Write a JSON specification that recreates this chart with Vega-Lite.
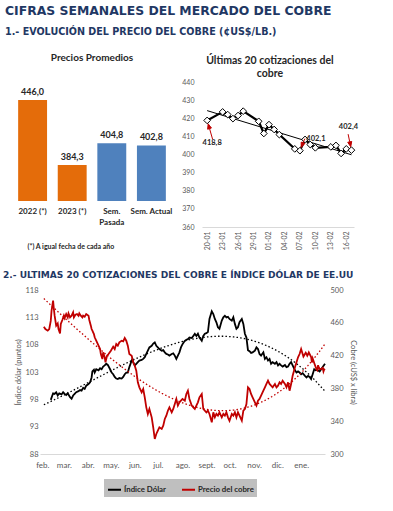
{
  "$schema": "https://vega.github.io/schema/vega-lite/v6.json",
  "background": "white",
  "padding": {"left": 3, "top": 5, "right": 2, "bottom": 2},
  "title": {
    "text": "CIFRAS SEMANALES DEL MERCADO DEL COBRE",
    "subtitle": "1.- EVOLUCIÓN DEL PRECIO DEL COBRE (¢US$/LB.)",
    "anchor": "start", "frame": "bounds", "dx": 2,
    "font": "DejaVu Sans", "fontSize": 12.4, "fontWeight": "bold", "color": "#1f3864",
    "subtitleFont": "DejaVu Sans", "subtitleFontSize": 9.6, "subtitleFontWeight": "bold", "subtitleColor": "#1f3864",
    "subtitlePadding": 10, "offset": 16
  },
  "config": {
    "view": {"stroke": null},
    "font": "Lato",
    "locale": {"number": {"decimal": ",", "thousands": ".", "grouping": [3], "currency": ["$", ""]}},
    "axis": {"labelFont": "Lato", "titleFont": "Lato", "labelColor": "#595959", "titleColor": "#595959", "grid": false, "ticks": false, "domain": false, "titleFontWeight": "normal"},
    "legend": {"layout": {"bottom": {"anchor": "middle"}}}
  },
  "datasets": {
    "promedios": [
      {"periodo": "2022 (*)", "valor": 446.0, "grupo": "anual"},
      {"periodo": "2023 (*)", "valor": 384.3, "grupo": "anual"},
      {"periodo": "Sem. Pasada", "valor": 404.8, "grupo": "semanal"},
      {"periodo": "Sem. Actual", "valor": 402.8, "grupo": "semanal"}
    ],
    "top20": [
      {"fecha": "2023-01-20", "valor": 418.8},
      {"fecha": "2023-01-23", "valor": 423.5},
      {"fecha": "2023-01-24", "valor": 422.0},
      {"fecha": "2023-01-25", "valor": 419.8},
      {"fecha": "2023-01-26", "valor": 421.5},
      {"fecha": "2023-01-27", "valor": 423.9},
      {"fecha": "2023-01-30", "valor": 418.3},
      {"fecha": "2023-01-31", "valor": 411.6},
      {"fecha": "2023-02-01", "valor": 416.5},
      {"fecha": "2023-02-02", "valor": 413.8},
      {"fecha": "2023-02-03", "valor": 411.0},
      {"fecha": "2023-02-06", "valor": 403.1},
      {"fecha": "2023-02-07", "valor": 402.1},
      {"fecha": "2023-02-08", "valor": 408.3},
      {"fecha": "2023-02-09", "valor": 405.5},
      {"fecha": "2023-02-10", "valor": 403.7},
      {"fecha": "2023-02-13", "valor": 404.2},
      {"fecha": "2023-02-14", "valor": 405.0},
      {"fecha": "2023-02-15", "valor": 400.6},
      {"fecha": "2023-02-16", "valor": 403.1},
      {"fecha": "2023-02-17", "valor": 402.4}
    ],
    "dolar": [
      {"fecha":"2022-02-26","valor":97.9},{"fecha":"2022-03-01","valor":99.1},{"fecha":"2022-03-03","valor":99.0},{"fecha":"2022-03-05","valor":99.3},
      {"fecha":"2022-03-07","valor":98.7},{"fecha":"2022-03-09","valor":99.1},{"fecha":"2022-03-12","valor":98.9},{"fecha":"2022-03-14","valor":99.3},
      {"fecha":"2022-03-16","valor":99.0},{"fecha":"2022-03-18","valor":98.8},{"fecha":"2022-03-20","valor":99.1},{"fecha":"2022-03-23","valor":98.4},
      {"fecha":"2022-03-25","valor":98.1},{"fecha":"2022-03-27","valor":98.7},{"fecha":"2022-03-29","valor":99.0},{"fecha":"2022-03-31","valor":99.3},
      {"fecha":"2022-04-03","valor":99.5},{"fecha":"2022-04-05","valor":99.7},{"fecha":"2022-04-07","valor":99.6},{"fecha":"2022-04-09","valor":100.1},
      {"fecha":"2022-04-11","valor":99.9},{"fecha":"2022-04-13","valor":100.5},{"fecha":"2022-04-16","valor":100.8},{"fecha":"2022-04-18","valor":101.1},
      {"fecha":"2022-04-20","valor":102.0},{"fecha":"2022-04-21","valor":103.1},{"fecha":"2022-04-23","valor":103.4},{"fecha":"2022-04-24","valor":102.9},
      {"fecha":"2022-04-26","valor":103.5},{"fecha":"2022-04-29","valor":103.3},{"fecha":"2022-05-01","valor":103.7},{"fecha":"2022-05-03","valor":103.5},
      {"fecha":"2022-05-05","valor":104.0},{"fecha":"2022-05-07","valor":104.2},{"fecha":"2022-05-09","valor":104.5},{"fecha":"2022-05-11","valor":104.3},
      {"fecha":"2022-05-14","valor":103.5},{"fecha":"2022-05-16","valor":102.9},{"fecha":"2022-05-18","valor":102.6},{"fecha":"2022-05-20","valor":102.1},
      {"fecha":"2022-05-22","valor":101.8},{"fecha":"2022-05-24","valor":101.7},{"fecha":"2022-05-26","valor":101.9},{"fecha":"2022-05-29","valor":101.8},
      {"fecha":"2022-05-31","valor":102.1},{"fecha":"2022-06-02","valor":102.6},{"fecha":"2022-06-04","valor":102.9},{"fecha":"2022-06-06","valor":102.9},
      {"fecha":"2022-06-08","valor":103.9},{"fecha":"2022-06-11","valor":105.1},{"fecha":"2022-06-12","valor":105.4},{"fecha":"2022-06-13","valor":104.8},
      {"fecha":"2022-06-15","valor":104.2},{"fecha":"2022-06-17","valor":104.5},{"fecha":"2022-06-19","valor":104.8},{"fecha":"2022-06-21","valor":105.1},
      {"fecha":"2022-06-24","valor":105.2},{"fecha":"2022-06-26","valor":105.4},{"fecha":"2022-06-28","valor":105.7},{"fecha":"2022-06-30","valor":106.3},
      {"fecha":"2022-07-02","valor":106.9},{"fecha":"2022-07-04","valor":107.5},{"fecha":"2022-07-07","valor":107.8},{"fecha":"2022-07-09","valor":108.2},
      {"fecha":"2022-07-11","valor":108.4},{"fecha":"2022-07-13","valor":107.8},{"fecha":"2022-07-15","valor":107.5},{"fecha":"2022-07-17","valor":107.2},
      {"fecha":"2022-07-20","valor":106.9},{"fecha":"2022-07-22","valor":107.0},{"fecha":"2022-07-24","valor":106.6},{"fecha":"2022-07-26","valor":106.3},
      {"fecha":"2022-07-28","valor":106.2},{"fecha":"2022-07-30","valor":106.0},{"fecha":"2022-08-02","valor":106.3},{"fecha":"2022-08-04","valor":106.4},
      {"fecha":"2022-08-06","valor":106.0},{"fecha":"2022-08-08","valor":105.4},{"fecha":"2022-08-10","valor":106.0},{"fecha":"2022-08-12","valor":106.6},
      {"fecha":"2022-08-14","valor":107.5},{"fecha":"2022-08-16","valor":108.1},{"fecha":"2022-08-19","valor":108.7},{"fecha":"2022-08-21","valor":108.9},
      {"fecha":"2022-08-23","valor":109.0},{"fecha":"2022-08-25","valor":109.3},{"fecha":"2022-08-28","valor":109.2},{"fecha":"2022-08-30","valor":109.6},
      {"fecha":"2022-09-01","valor":110.0},{"fecha":"2022-09-03","valor":109.6},{"fecha":"2022-09-05","valor":110.0},{"fecha":"2022-09-07","valor":109.3},
      {"fecha":"2022-09-10","valor":108.7},{"fecha":"2022-09-12","valor":109.6},{"fecha":"2022-09-14","valor":110.0},{"fecha":"2022-09-16","valor":110.1},
      {"fecha":"2022-09-18","valor":110.3},{"fecha":"2022-09-20","valor":112.7},{"fecha":"2022-09-23","valor":114.1},{"fecha":"2022-09-25","valor":113.6},
      {"fecha":"2022-09-27","valor":112.7},{"fecha":"2022-09-29","valor":112.1},{"fecha":"2022-10-01","valor":111.2},{"fecha":"2022-10-03","valor":110.9},
      {"fecha":"2022-10-06","valor":112.4},{"fecha":"2022-10-08","valor":113.0},{"fecha":"2022-10-10","valor":113.3},{"fecha":"2022-10-12","valor":113.0},
      {"fecha":"2022-10-14","valor":113.1},{"fecha":"2022-10-16","valor":112.7},{"fecha":"2022-10-19","valor":112.4},{"fecha":"2022-10-21","valor":113.0},
      {"fecha":"2022-10-23","valor":111.8},{"fecha":"2022-10-25","valor":110.9},{"fecha":"2022-10-27","valor":111.2},{"fecha":"2022-10-29","valor":112.1},
      {"fecha":"2022-11-01","valor":112.7},{"fecha":"2022-11-03","valor":111.8},{"fecha":"2022-11-05","valor":110.0},{"fecha":"2022-11-07","valor":109.3},
      {"fecha":"2022-11-09","valor":107.0},{"fecha":"2022-11-11","valor":106.8},{"fecha":"2022-11-13","valor":106.5},{"fecha":"2022-11-15","valor":106.6},
      {"fecha":"2022-11-18","valor":106.9},{"fecha":"2022-11-20","valor":107.5},{"fecha":"2022-11-22","valor":107.2},{"fecha":"2022-11-24","valor":106.3},
      {"fecha":"2022-11-26","valor":106.0},{"fecha":"2022-11-29","valor":106.6},{"fecha":"2022-12-01","valor":105.4},{"fecha":"2022-12-03","valor":105.7},
      {"fecha":"2022-12-05","valor":105.1},{"fecha":"2022-12-07","valor":105.4},{"fecha":"2022-12-09","valor":104.5},{"fecha":"2022-12-11","valor":104.8},
      {"fecha":"2022-12-14","valor":104.5},{"fecha":"2022-12-16","valor":104.8},{"fecha":"2022-12-18","valor":104.2},{"fecha":"2022-12-20","valor":104.5},
      {"fecha":"2022-12-22","valor":104.2},{"fecha":"2022-12-24","valor":104.0},{"fecha":"2022-12-27","valor":104.3},{"fecha":"2022-12-29","valor":103.9},
      {"fecha":"2022-12-31","valor":104.0},{"fecha":"2023-01-02","valor":104.5},{"fecha":"2023-01-04","valor":104.8},{"fecha":"2023-01-06","valor":104.2},
      {"fecha":"2023-01-09","valor":103.3},{"fecha":"2023-01-11","valor":102.9},{"fecha":"2023-01-13","valor":103.1},{"fecha":"2023-01-15","valor":102.9},
      {"fecha":"2023-01-17","valor":102.6},{"fecha":"2023-01-19","valor":102.8},{"fecha":"2023-01-22","valor":102.3},{"fecha":"2023-01-24","valor":102.0},
      {"fecha":"2023-01-26","valor":102.3},{"fecha":"2023-01-28","valor":102.1},{"fecha":"2023-01-30","valor":101.7},{"fecha":"2023-02-01","valor":102.6},
      {"fecha":"2023-02-03","valor":103.5},{"fecha":"2023-02-05","valor":103.3},{"fecha":"2023-02-07","valor":103.4},{"fecha":"2023-02-10","valor":103.1},
      {"fecha":"2023-02-12","valor":103.5},{"fecha":"2023-02-14","valor":103.9},{"fecha":"2023-02-17","valor":104.5}
    ],
    "cobre": [
      {"fecha":"2022-02-17","valor":455.3},{"fecha":"2022-02-19","valor":452.4},{"fecha":"2022-02-22","valor":450.4},{"fecha":"2022-02-24","valor":452.4},
      {"fecha":"2022-02-26","valor":462.6},{"fecha":"2022-02-27","valor":474.8},{"fecha":"2022-03-01","valor":487.0},{"fecha":"2022-03-02","valor":476.8},
      {"fecha":"2022-03-03","valor":468.7},{"fecha":"2022-03-05","valor":456.5},{"fecha":"2022-03-07","valor":459.3},{"fecha":"2022-03-08","valor":452.4},
      {"fecha":"2022-03-10","valor":447.1},{"fecha":"2022-03-11","valor":458.5},{"fecha":"2022-03-13","valor":463.4},{"fecha":"2022-03-15","valor":468.7},
      {"fecha":"2022-03-16","valor":465.8},{"fecha":"2022-03-18","valor":470.7},{"fecha":"2022-03-20","valor":466.7},{"fecha":"2022-03-21","valor":471.5},
      {"fecha":"2022-03-23","valor":466.7},{"fecha":"2022-03-25","valor":468.7},{"fecha":"2022-03-27","valor":472.7},{"fecha":"2022-03-28","valor":466.7},
      {"fecha":"2022-03-30","valor":469.9},{"fecha":"2022-04-01","valor":470.7},{"fecha":"2022-04-03","valor":468.7},{"fecha":"2022-04-04","valor":471.5},
      {"fecha":"2022-04-06","valor":468.7},{"fecha":"2022-04-08","valor":466.7},{"fecha":"2022-04-09","valor":468.7},{"fecha":"2022-04-11","valor":467.5},
      {"fecha":"2022-04-13","valor":470.7},{"fecha":"2022-04-16","valor":468.7},{"fecha":"2022-04-17","valor":463.4},{"fecha":"2022-04-19","valor":456.5},
      {"fecha":"2022-04-20","valor":452.4},{"fecha":"2022-04-21","valor":450.4},{"fecha":"2022-04-23","valor":446.3},{"fecha":"2022-04-24","valor":442.3},
      {"fecha":"2022-04-26","valor":438.2},{"fecha":"2022-04-29","valor":432.1},{"fecha":"2022-05-01","valor":428.0},{"fecha":"2022-05-02","valor":421.9},
      {"fecha":"2022-05-04","valor":415.8},{"fecha":"2022-05-05","valor":424.0},{"fecha":"2022-05-07","valor":417.9},{"fecha":"2022-05-08","valor":411.8},
      {"fecha":"2022-05-10","valor":419.9},{"fecha":"2022-05-12","valor":421.9},{"fecha":"2022-05-15","valor":426.0},{"fecha":"2022-05-18","valor":430.9},
      {"fecha":"2022-05-20","valor":428.0},{"fecha":"2022-05-22","valor":434.1},{"fecha":"2022-05-24","valor":432.1},{"fecha":"2022-05-26","valor":436.2},
      {"fecha":"2022-05-29","valor":438.2},{"fecha":"2022-05-31","valor":437.4},{"fecha":"2022-06-02","valor":441.4},{"fecha":"2022-06-04","valor":438.2},
      {"fecha":"2022-06-06","valor":432.1},{"fecha":"2022-06-08","valor":421.9},{"fecha":"2022-06-11","valor":419.9},{"fecha":"2022-06-13","valor":411.8},
      {"fecha":"2022-06-15","valor":407.7},{"fecha":"2022-06-17","valor":401.6},{"fecha":"2022-06-19","valor":387.4},{"fecha":"2022-06-21","valor":381.3},
      {"fecha":"2022-06-24","valor":375.2},{"fecha":"2022-06-26","valor":379.3},{"fecha":"2022-06-28","valor":369.1},{"fecha":"2022-06-30","valor":356.9},
      {"fecha":"2022-07-02","valor":348.8},{"fecha":"2022-07-04","valor":354.9},{"fecha":"2022-07-07","valor":344.7},{"fecha":"2022-07-09","valor":332.5},
      {"fecha":"2022-07-11","valor":318.3},{"fecha":"2022-07-13","valor":324.4},{"fecha":"2022-07-15","valor":328.4},{"fecha":"2022-07-17","valor":332.5},
      {"fecha":"2022-07-20","valor":330.5},{"fecha":"2022-07-22","valor":334.5},{"fecha":"2022-07-24","valor":342.7},{"fecha":"2022-07-26","valor":346.7},
      {"fecha":"2022-07-28","valor":352.8},{"fecha":"2022-07-30","valor":356.9},{"fecha":"2022-08-02","valor":350.8},{"fecha":"2022-08-04","valor":354.9},
      {"fecha":"2022-08-06","valor":361.0},{"fecha":"2022-08-08","valor":367.1},{"fecha":"2022-08-10","valor":359.0},{"fecha":"2022-08-12","valor":363.0},
      {"fecha":"2022-08-14","valor":365.1},{"fecha":"2022-08-16","valor":367.1},{"fecha":"2022-08-19","valor":365.1},{"fecha":"2022-08-21","valor":373.2},
      {"fecha":"2022-08-23","valor":377.2},{"fecha":"2022-08-25","valor":367.1},{"fecha":"2022-08-28","valor":359.0},{"fecha":"2022-08-30","valor":356.9},
      {"fecha":"2022-09-01","valor":354.9},{"fecha":"2022-09-03","valor":359.0},{"fecha":"2022-09-05","valor":363.0},{"fecha":"2022-09-07","valor":369.1},
      {"fecha":"2022-09-10","valor":373.2},{"fecha":"2022-09-12","valor":354.9},{"fecha":"2022-09-14","valor":352.8},{"fecha":"2022-09-16","valor":350.8},
      {"fecha":"2022-09-18","valor":352.8},{"fecha":"2022-09-20","valor":348.8},{"fecha":"2022-09-23","valor":338.6},{"fecha":"2022-09-25","valor":350.8},
      {"fecha":"2022-09-27","valor":344.7},{"fecha":"2022-09-29","valor":348.8},{"fecha":"2022-10-01","valor":346.7},{"fecha":"2022-10-03","valor":350.8},
      {"fecha":"2022-10-06","valor":344.7},{"fecha":"2022-10-08","valor":348.8},{"fecha":"2022-10-10","valor":346.7},{"fecha":"2022-10-12","valor":350.8},
      {"fecha":"2022-10-14","valor":344.7},{"fecha":"2022-10-16","valor":340.6},{"fecha":"2022-10-19","valor":348.8},{"fecha":"2022-10-21","valor":346.7},
      {"fecha":"2022-10-23","valor":350.8},{"fecha":"2022-10-25","valor":344.7},{"fecha":"2022-10-27","valor":350.8},{"fecha":"2022-10-29","valor":346.7},
      {"fecha":"2022-11-01","valor":340.6},{"fecha":"2022-11-03","valor":352.8},{"fecha":"2022-11-05","valor":354.9},{"fecha":"2022-11-07","valor":361.0},
      {"fecha":"2022-11-09","valor":381.3},{"fecha":"2022-11-11","valor":379.3},{"fecha":"2022-11-13","valor":373.2},{"fecha":"2022-11-15","valor":369.1},
      {"fecha":"2022-11-18","valor":363.0},{"fecha":"2022-11-20","valor":359.0},{"fecha":"2022-11-22","valor":365.1},{"fecha":"2022-11-24","valor":367.1},
      {"fecha":"2022-11-26","valor":371.1},{"fecha":"2022-11-29","valor":377.2},{"fecha":"2022-12-01","valor":381.3},{"fecha":"2022-12-03","valor":385.4},
      {"fecha":"2022-12-05","valor":389.4},{"fecha":"2022-12-07","valor":385.4},{"fecha":"2022-12-09","valor":383.3},{"fecha":"2022-12-11","valor":381.3},
      {"fecha":"2022-12-14","valor":385.4},{"fecha":"2022-12-16","valor":381.3},{"fecha":"2022-12-18","valor":383.3},{"fecha":"2022-12-20","valor":387.4},
      {"fecha":"2022-12-22","valor":385.4},{"fecha":"2022-12-24","valor":389.4},{"fecha":"2022-12-27","valor":385.4},{"fecha":"2022-12-29","valor":381.3},
      {"fecha":"2022-12-31","valor":387.4},{"fecha":"2023-01-02","valor":377.2},{"fecha":"2023-01-04","valor":385.4},{"fecha":"2023-01-06","valor":395.5},
      {"fecha":"2023-01-09","valor":405.7},{"fecha":"2023-01-11","valor":411.8},{"fecha":"2023-01-13","valor":417.9},{"fecha":"2023-01-15","valor":421.9},
      {"fecha":"2023-01-17","valor":428.0},{"fecha":"2023-01-20","valor":418.8},{"fecha":"2023-01-23","valor":423.5},{"fecha":"2023-01-24","valor":422.0},
      {"fecha":"2023-01-25","valor":419.8},{"fecha":"2023-01-26","valor":421.5},{"fecha":"2023-01-27","valor":423.9},{"fecha":"2023-01-30","valor":418.3},
      {"fecha":"2023-01-31","valor":411.6},{"fecha":"2023-02-01","valor":416.5},{"fecha":"2023-02-02","valor":413.8},{"fecha":"2023-02-03","valor":411.0},
      {"fecha":"2023-02-06","valor":403.1},{"fecha":"2023-02-07","valor":402.1},{"fecha":"2023-02-08","valor":408.3},{"fecha":"2023-02-09","valor":405.5},
      {"fecha":"2023-02-10","valor":403.7},{"fecha":"2023-02-13","valor":404.2},{"fecha":"2023-02-14","valor":405.0},{"fecha":"2023-02-15","valor":400.6},
      {"fecha":"2023-02-16","valor":403.1},{"fecha":"2023-02-17","valor":402.4}
    ]
  },
  "vconcat": [
    {
      "hconcat": [
        {
          "width": 158, "height": 119,
          "title": {"text": "Precios Promedios", "fontSize": 10, "fontWeight": "bold", "color": "#262626", "offset": 19},
          "data": {"name": "promedios"},
          "encoding": {
            "x": {"field": "periodo", "type": "nominal", "sort": null,
              "scale": {"paddingInner": 0.27, "paddingOuter": 0.13},
              "axis": {"labelAngle": 0, "labelFontSize": 8, "labelFontWeight": "bold", "labelColor": "#262626", "labelPadding": 6, "labelLineHeight": 11,
                "labelExpr": "datum.label == 'Sem. Pasada' ? ['Sem.', 'Pasada'] : datum.label",
                "title": "(*) A igual fecha de cada año", "titleFontSize": 7, "titleFontWeight": "bold", "titleColor": "#262626",
                "titleAnchor": "start", "titleAlign": "left", "titleX": 14, "titleY": 45, "titleBaseline": "middle"}},
            "y": {"field": "valor", "type": "quantitative", "scale": {"domain": [350, 463], "zero": false}, "axis": null}
          },
          "layer": [
            {"mark": {"type": "bar"},
             "encoding": {"y2": {"datum": 350},
               "color": {"condition": {"test": "datum.grupo == 'anual'", "value": "#e46c0a"}, "value": "#4f81bd"}}},
            {"mark": {"type": "text", "dy": -8, "fontSize": 9, "fontWeight": "bold", "color": "#262626"},
             "encoding": {"text": {"field": "valor", "type": "quantitative", "format": ".1f"}}}
          ]
        },
        {
          "width": 152, "height": 145,
          "title": {"text": ["Últimas 20 cotizaciones del", "cobre"], "fontSize": 10.5, "fontWeight": "bold", "color": "#262626", "offset": -1, "anchor": "middle", "frame": "bounds", "lineHeight": 13},
          "encoding": {
            "x": {"field": "fecha", "type": "temporal",
              "scale": {"type": "utc", "domain": [{"year": 2023, "month": 1, "date": 19, "utc": true}, {"year": 2023, "month": 2, "date": 17, "hours": 12, "utc": true}]},
              "axis": {"values": [
                  {"year": 2023, "month": 1, "date": 20, "utc": true}, {"year": 2023, "month": 1, "date": 23, "utc": true},
                  {"year": 2023, "month": 1, "date": 26, "utc": true}, {"year": 2023, "month": 1, "date": 29, "utc": true},
                  {"year": 2023, "month": 2, "date": 1, "utc": true}, {"year": 2023, "month": 2, "date": 4, "utc": true},
                  {"year": 2023, "month": 2, "date": 7, "utc": true}, {"year": 2023, "month": 2, "date": 10, "utc": true},
                  {"year": 2023, "month": 2, "date": 13, "utc": true}, {"year": 2023, "month": 2, "date": 16, "utc": true}],
                "labelExpr": "utcFormat(datum.value, '%d-%m')", "labelAngle": -90, "labelFontSize": 7, "labelPadding": 4,
                "domain": true, "domainColor": "#d9d9d9", "title": null}},
            "y": {"field": "valor", "type": "quantitative", "scale": {"domain": [360, 440], "zero": false},
              "axis": {"values": [360, 370, 380, 390, 400, 410, 420, 430, 440], "format": "d", "labelFontSize": 7, "labelPadding": 8, "title": null}}
          },
          "layer": [
            {"data": {"name": "top20"},
             "layer": [
              {"mark": {"type": "line", "color": "#000000", "strokeWidth": 2.2}},
              {"transform": [{"regression": "valor", "on": "fecha"}],
               "mark": {"type": "line", "color": "#000000", "strokeWidth": 1}},
              {"mark": {"type": "point", "shape": "diamond", "filled": true, "fill": "white", "stroke": "#000000", "strokeWidth": 1, "size": 45, "opacity": 1}}
            ]},
            {"data": {"values": [{"fecha": "2023-01-20", "valor": 418.8}]},
             "layer": [
              {"mark": {"type": "point", "shape": "M1,3.4L4.3,7.6L0.5,8.8Z M2.4,8.2L5.5,19", "size": 4, "filled": true, "fill": "#c00000", "stroke": "#c00000", "strokeWidth": 1, "opacity": 1}},
              {"mark": {"type": "text", "dx": 5, "dy": 23, "fontSize": 7.5, "fontWeight": "bold", "color": "#262626"},
               "encoding": {"text": {"field": "valor", "type": "quantitative", "format": ".1f"}}}
            ]},
            {"data": {"values": [{"fecha": "2023-02-07", "valor": 402.1}]},
             "layer": [
              {"mark": {"type": "point", "shape": "M1.3,-3.3L5,-7.2L1.3,-8.6Z M3.1,-7.9L5,-12", "size": 4, "filled": true, "fill": "#c00000", "stroke": "#c00000", "strokeWidth": 1, "opacity": 1}},
              {"mark": {"type": "text", "dx": 16, "dy": -12, "fontSize": 7.5, "fontWeight": "bold", "color": "#262626"},
               "encoding": {"text": {"field": "valor", "type": "quantitative", "format": ".1f"}}}
            ]},
            {"data": {"values": [{"fecha": "2023-02-17", "valor": 402.4}]},
             "layer": [
              {"mark": {"type": "point", "shape": "M-0.7,-3.4L0.3,-8.7L-3.7,-7.9Z M-1.7,-8.3L-3.3,-16", "size": 4, "filled": true, "fill": "#c00000", "stroke": "#c00000", "strokeWidth": 1, "opacity": 1}},
              {"mark": {"type": "text", "dx": -3, "dy": -23, "fontSize": 7.5, "fontWeight": "bold", "color": "#262626"},
               "encoding": {"text": {"field": "valor", "type": "quantitative", "format": ".1f"}}}
            ]}
          ]
        }
      ],
      "spacing": 9
    },
    {
      "title": {"text": "2.- ULTIMAS 20 COTIZACIONES DEL COBRE E ÍNDICE DÓLAR DE EE.UU", "anchor": "start", "frame": "bounds", "dx": -10,
        "font": "DejaVu Sans", "fontSize": 9.05, "fontWeight": "bold", "color": "#1f3864", "offset": 6},
      "spacing": 0,
      "hconcat": [
        {"width": 1, "height": 164, "data": {"values": []}, "mark": {"type": "point", "opacity": 0}},
        {
          "width": 285, "height": 164,
          "encoding": {
            "x": {"field": "fecha", "type": "temporal",
              "scale": {"type": "utc", "domain": [{"year": 2022, "month": 2, "date": 12, "utc": true}, {"year": 2023, "month": 2, "date": 17, "utc": true}]},
              "axis": {"values": [
                  {"year": 2022, "month": 2, "date": 15, "utc": true}, {"year": 2022, "month": 3, "date": 15, "utc": true},
                  {"year": 2022, "month": 4, "date": 15, "utc": true}, {"year": 2022, "month": 5, "date": 15, "utc": true},
                  {"year": 2022, "month": 6, "date": 15, "utc": true}, {"year": 2022, "month": 7, "date": 15, "utc": true},
                  {"year": 2022, "month": 8, "date": 16, "utc": true}, {"year": 2022, "month": 9, "date": 16, "utc": true},
                  {"year": 2022, "month": 10, "date": 16, "utc": true}, {"year": 2022, "month": 11, "date": 17, "utc": true},
                  {"year": 2022, "month": 12, "date": 17, "utc": true}, {"year": 2023, "month": 1, "date": 17, "utc": true}],
                "labelExpr": "['ene.','feb.','mar.','abr.','may.','jun.','jul.','ago.','sept.','oct.','nov.','dic.'][utcmonth(datum.value)]",
                "labelFontSize": 8, "labelPadding": 7, "domain": true, "domainColor": "#d9d9d9", "title": null}}
          },
          "layer": [
            {"data": {"name": "dolar"},
             "encoding": {"y": {"field": "valor", "type": "quantitative", "scale": {"domain": [88, 118], "zero": false},
               "axis": {"orient": "left", "values": [88, 93, 98, 103, 108, 113, 118], "format": "d", "title": "Índice dólar (puntos)", "labelFontSize": 7.5, "titleFontSize": 7.5, "labelPadding": 2, "titlePadding": 2}}},
             "layer": [
              {"mark": {"type": "line", "strokeWidth": 1.8},
               "encoding": {"color": {"datum": "Índice Dólar", "type": "nominal",
                 "scale": {"domain": ["Índice Dólar", "Precio del cobre"], "range": ["#000000", "#c00000"]},
                 "legend": {"orient": "bottom", "direction": "horizontal", "title": null, "fillColor": "#bfbfbf", "padding": 3,
                   "labelFontSize": 7.8, "labelFontWeight": "bold", "labelColor": "#262626", "labelFont": "Lato",
                   "symbolType": "stroke", "symbolStrokeWidth": 2, "symbolSize": 169, "columnPadding": 12, "labelOffset": 2, "offset": 10}}}},
              {"transform": [{"regression": "valor", "on": "fecha", "method": "poly", "order": 3, "extent": [1645056000000, 1676592000000]}],
               "mark": {"type": "line", "color": "#000000", "strokeWidth": 1.3, "strokeDash": [1.5, 2.2]}}
            ]},
            {"data": {"name": "cobre"},
             "encoding": {"y": {"field": "valor", "type": "quantitative", "scale": {"domain": [300, 500], "zero": false},
               "axis": {"orient": "right", "values": [300, 340, 380, 420, 460, 500], "format": "d", "title": "Cobre (cUS$ x libra)", "labelFontSize": 7.5, "titleFontSize": 7.5, "labelPadding": 5, "titlePadding": 5}}},
             "layer": [
              {"mark": {"type": "line", "strokeWidth": 1.8},
               "encoding": {"color": {"datum": "Precio del cobre", "type": "nominal"}}},
              {"transform": [{"regression": "valor", "on": "fecha", "method": "poly", "order": 3}],
               "mark": {"type": "line", "color": "#c00000", "strokeWidth": 1.3, "strokeDash": [1.5, 2.2]}}
            ]}
          ],
          "resolve": {"scale": {"y": "independent"}}
        }
      ]
    }
  ],
  "spacing": 20
}
